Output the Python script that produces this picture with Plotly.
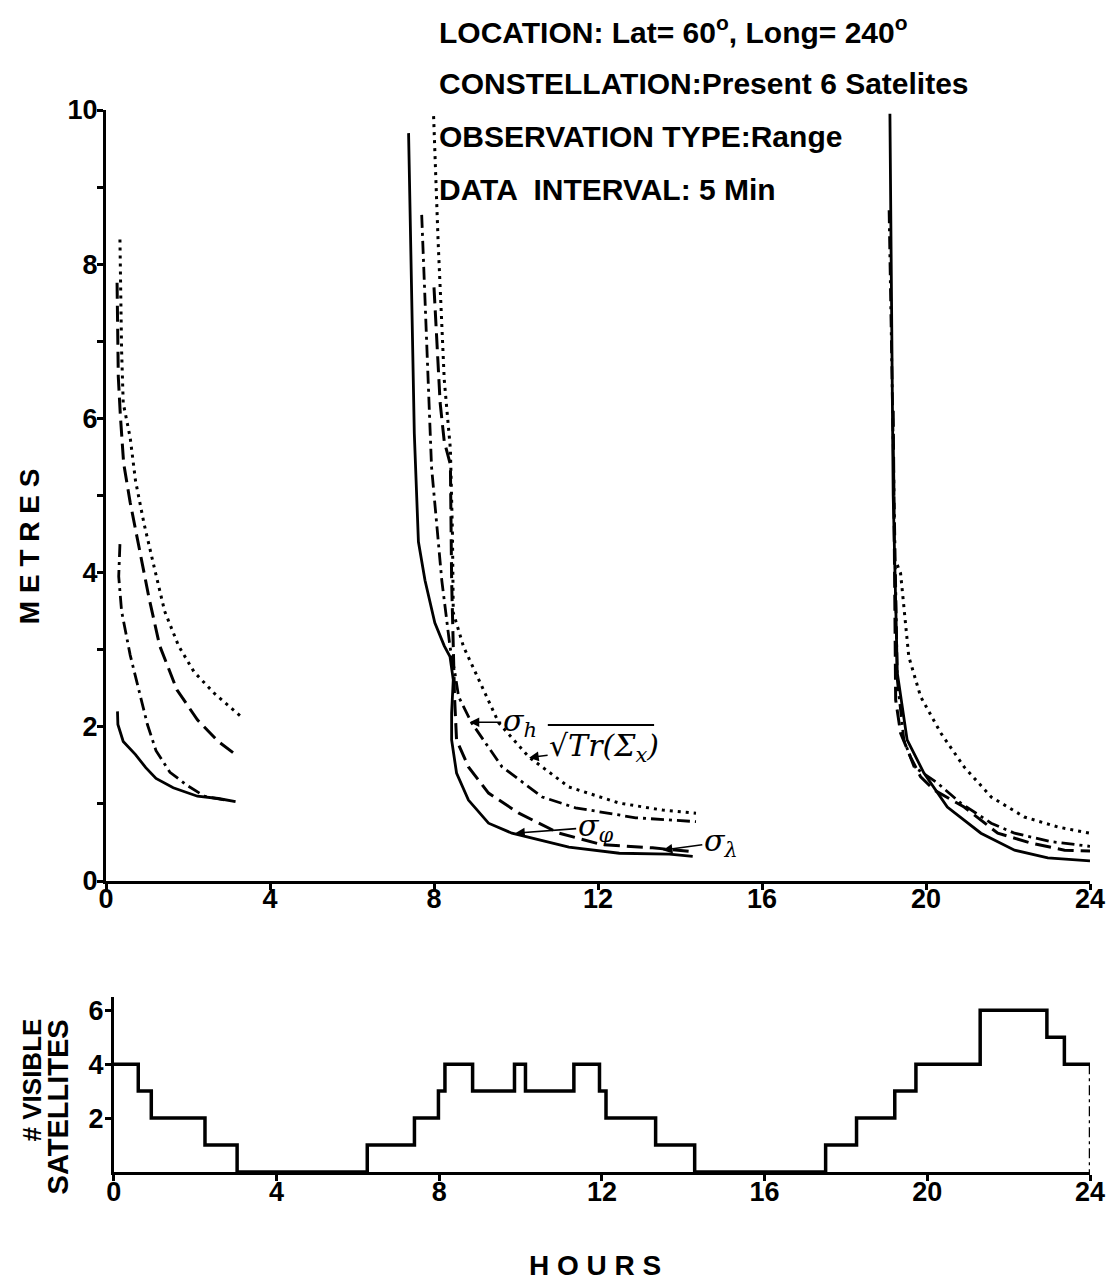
import plotly.graph_objects as go

# ---- accuracy curves (hours, metres); three visibility passes separated by None ----
sig_lam_t = [0.28, 0.29, 0.42, 0.72, 0.97, 1.22, 1.64, 2.23, 2.74, 3.16, None,
             7.38, 7.52, 7.62, 7.78, 8.02, 8.25, 8.39, 8.47, 8.43, 8.43, 8.55, 8.84, 9.33, 9.90,
             11.29, 12.52, 13.74, 14.31, None,
             19.12, 19.20, 19.30, 19.54, 19.95, 20.52, 21.34, 22.16, 22.97, 24.0]
sig_lam_v = [2.20, 2.03, 1.81, 1.64, 1.47, 1.33, 1.21, 1.10, 1.07, 1.03, None,
             9.70, 5.80, 4.40, 3.90, 3.35, 3.05, 2.91, 2.61, 2.18, 1.83, 1.40, 1.05, 0.75, 0.62,
             0.44, 0.36, 0.35, 0.32, None,
             9.95, 5.00, 2.70, 1.83, 1.40, 0.96, 0.62, 0.40, 0.30, 0.26]

sig_phi_t = [0.27, 0.30, 0.35, 0.43, 0.59, 0.80, 1.05, 1.31, 1.73, 2.23, 2.74, 3.16, None,
             8.00, 8.15, 8.25, 8.40, 8.43, 8.47, 8.50, 8.55, 8.84, 9.33, 10.07, 11.05, 12.11,
             13.33, 14.31, None,
             19.20, 19.24, 19.26, 19.38, 19.62, 19.87, 20.20, 20.93, 21.75, 22.57, 23.38, 24.0]
sig_phi_v = [7.76, 6.54, 6.04, 5.42, 4.91, 4.34, 3.67, 3.05, 2.48, 2.09, 1.81, 1.64, None,
             7.70, 6.20, 5.70, 5.40, 3.90, 3.04, 2.40, 1.83, 1.48, 1.14, 0.88, 0.62, 0.47,
             0.43, 0.38, None,
             6.10, 4.00, 2.35, 1.92, 1.61, 1.35, 1.18, 0.96, 0.62, 0.49, 0.40, 0.39]

sig_h_t = [0.34, 0.31, 0.38, 0.59, 0.80, 1.01, 1.22, 1.56, 1.98, 2.40, 2.91, None,
           7.70, 7.82, 7.94, 8.19, 8.39, 8.51, 8.60, 8.92, 9.66, 10.64, 11.45, 12.92, 14.39, None,
           19.10, 19.22, 19.30, 19.46, 19.71, 20.28, 20.85, 21.59, 22.16, 23.06, 24.0]
sig_h_v = [4.37, 3.95, 3.50, 2.93, 2.48, 2.03, 1.69, 1.41, 1.24, 1.10, 1.05, None,
           8.64, 7.00, 5.37, 3.90, 3.04, 2.70, 2.39, 2.05, 1.48, 1.09, 0.95, 0.82, 0.77, None,
           8.70, 5.00, 2.61, 1.83, 1.48, 1.27, 1.01, 0.75, 0.62, 0.51, 0.45]

trace_t = [0.34, 0.38, 0.42, 0.59, 0.72, 0.93, 1.18, 1.43, 1.77, 2.15, 2.65, 3.28, None,
           7.99, 8.10, 8.25, 8.40, 8.45, 8.47, 8.72, 9.09, 9.58, 10.31, 11.29, 12.52, 13.58, 14.39, None,
           19.30, 19.38, 19.46, 19.58, 19.87, 20.36, 20.93, 21.59, 22.40, 23.22, 24.0]
trace_v = [8.32, 6.89, 6.20, 5.75, 5.19, 4.63, 4.06, 3.50, 3.05, 2.71, 2.43, 2.14, None,
           9.92, 8.30, 6.50, 5.60, 4.50, 3.48, 3.04, 2.61, 2.05, 1.61, 1.22, 1.01, 0.92, 0.88, None,
           4.10, 3.99, 3.56, 2.91, 2.39, 1.92, 1.48, 1.09, 0.83, 0.70, 0.62]

# ---- number of visible satellites (step function) ----
sat_t = [0, 0.60, 0.92, 2.24, 3.03, 6.23, 7.39, 7.98, 8.14, 8.82, 9.85, 10.12, 11.31, 11.94,
         12.10, 13.32, 14.28, 17.50, 18.26, 19.20, 19.72, 21.30, 22.94, 23.37, 24.0]
sat_n = [4, 3, 2, 1, 0, 1, 2, 3, 4, 3, 4, 3, 4, 3, 2, 1, 0, 1, 2, 3, 4, 6, 5, 4, 4]

hour_ticks = [0, 4, 8, 12, 16, 20, 24]
metre_ticks = [0, 2, 4, 6, 8, 10]
sat_ticks = [2, 4, 6]

FONT = "Liberation Sans"

fig = go.Figure()

curves = [
    (sig_lam_t, sig_lam_v, "solid", 2.8),
    (sig_phi_t, sig_phi_v, "16px,7px", 3),
    (sig_h_t, sig_h_v, "13px,5px,3px,5px", 2.8),
    (trace_t, trace_v, "3px,5px", 3),
]
for t, v, dash, w in curves:
    fig.add_trace(go.Scatter(x=t, y=v, mode="lines", connectgaps=False,
                             line=dict(color="black", width=w, dash=dash),
                             xaxis="x", yaxis="y", showlegend=False))

fig.add_trace(go.Scatter(x=sat_t, y=sat_n, mode="lines", line_shape="hv",
                         line=dict(color="black", width=3.5),
                         xaxis="x2", yaxis="y2", showlegend=False))
# closing edge at the end of the day
fig.add_trace(go.Scatter(x=[sat_t[-1], sat_t[-1]], y=[sat_n[-1], 0], mode="lines",
                         line=dict(color="black", width=2.5, dash="10px,4px,3px,4px"),
                         cliponaxis=False, xaxis="x2", yaxis="y2", showlegend=False))

tickfont = dict(family=FONT, size=27, color="black", weight="bold")
axis_common = dict(showgrid=False, zeroline=False, showline=True, linecolor="black",
                   linewidth=3, ticks="outside", tickwidth=2.5, ticklen=6,
                   tickcolor="black", tickfont=tickfont, automargin=False)

fig.update_layout(
    width=1109, height=1280,
    paper_bgcolor="white", plot_bgcolor="white",
    margin=dict(l=106, r=19, t=110, b=108),
    xaxis=dict(domain=[0, 1], range=[0, 24], tickvals=hour_ticks, anchor="y",
               ticklabelstandoff=-14, **axis_common),
    yaxis=dict(domain=[0.274, 1], range=[0, 10], tickvals=metre_ticks, anchor="x",
               ticklabelstandoff=-6,
               minor=dict(dtick=1, ticks="outside", ticklen=6, tickwidth=2.5, tickcolor="black"),
               **axis_common),
    xaxis2=dict(domain=[0.008, 1], range=[0, 24], tickvals=hour_ticks, anchor="y2",
                ticklabelstandoff=-12, **axis_common),
    yaxis2=dict(domain=[0, 0.165], range=[0, 6.5], tickvals=sat_ticks, anchor="x2",
                ticklabelstandoff=-4, **axis_common),
)

head = dict(xref="paper", yref="paper", x=0.336, xanchor="left", yanchor="middle",
            showarrow=False, font=dict(family=FONT, size=30, color="black"))
fig.add_annotation(text="<b>LOCATION: Lat= 60<sup>o</sup>, Long= 240<sup>o</sup></b>", y=1.0753, **head)
fig.add_annotation(text="<b>CONSTELLATION:Present 6 Satelites</b>", y=1.0254, **head)
fig.add_annotation(text="<b>OBSERVATION TYPE:Range</b>", y=0.9746, **head)
fig.add_annotation(text="<b>DATA  INTERVAL: 5 Min</b>", y=0.9247, **head)

label = dict(xref="paper", yref="paper", showarrow=False, xanchor="center")
fig.add_annotation(text="<b>M E T R E S</b>", x=-0.077, y=0.5895, textangle=-90,
                   yanchor="middle", font=dict(family=FONT, size=28, color="black"), **label)
fig.add_annotation(text="<b>H O U R S</b>", x=0.497, y=-0.0885, yanchor="middle",
                   font=dict(family=FONT, size=28, color="black"), **label)
fig.add_annotation(text="<b># VISIBLE</b>", x=-0.0752, y=0.146, textangle=-90,
                   yanchor="top", font=dict(family=FONT, size=26, color="black"), **label)
fig.add_annotation(text="<b>SATELLITES</b>", x=-0.0488, y=0.146, textangle=-90,
                   yanchor="top", font=dict(family=FONT, size=29, color="black"), **label)

arrow = dict(xref="x", yref="y", showarrow=True, arrowhead=2, arrowsize=1.2, arrowwidth=1.6,
             arrowcolor="black", font=dict(family="DejaVu Serif", size=30, color="black"))
fig.add_annotation(text="<i>σ<sub>h</sub></i>", x=8.87, y=2.06, ax=50, ay=0, **arrow)
fig.add_annotation(text="<i>√Tr(Σ<sub>x</sub>)</i>", x=10.32, y=1.60, ax=75, ay=-10, **arrow)
fig.add_annotation(text="<i>σ<sub>φ</sub></i>", x=9.98, y=0.62, ax=80, ay=-6, **arrow)
fig.add_annotation(text="<i>σ<sub>λ</sub></i>", x=13.58, y=0.40, ax=58, ay=-8, **arrow)

# vinculum over the square root
fig.add_shape(type="line", xref="paper", yref="paper", x0=0.449, x1=0.557, y0=0.421, y1=0.421,
              line=dict(color="black", width=2))

# drop the default 8px page margin so the figure fills the window exactly
fig.write_html("out.html", config={"displayModeBar": False},
               post_script="document.body.style.margin = '0';")
